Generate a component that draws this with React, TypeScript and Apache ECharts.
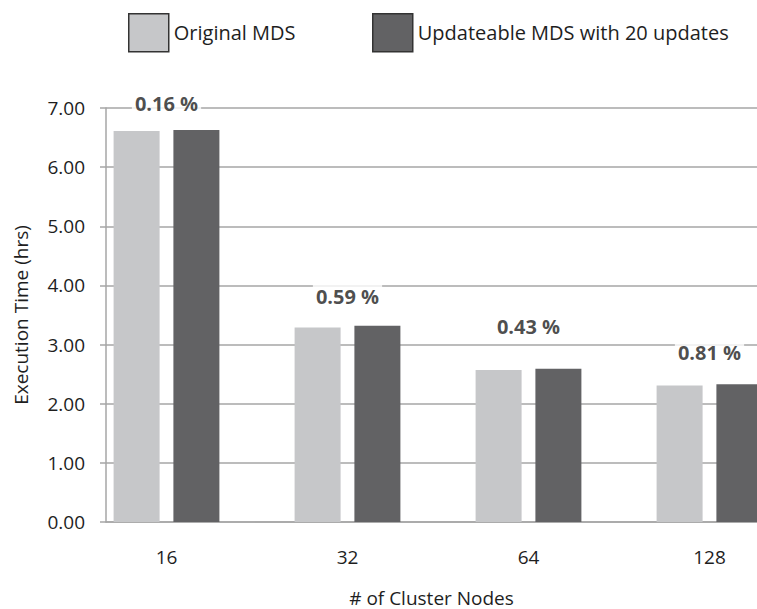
import React, { useEffect, useRef } from "react";
import * as echarts from "echarts";

const categories = ["16", "32", "64", "128"];
const originalMDS = [6.61, 3.29, 2.57, 2.31];
const updateableMDS = [6.63, 3.32, 2.59, 2.33];
const percentLabels = ["0.16 %", "0.59 %", "0.43 %", "0.81 %"];
const percentLabelY = [7.07, 3.82, 3.3, 2.86];
const yTicks = [0, 1, 2, 3, 4, 5, 6, 7];

const FONT = "Open Sans";
const TEXT = "#1e1e1e";
const FS = 19;

export default function App() {
  const ref = useRef<HTMLDivElement>(null);
  useEffect(() => {
    if (!ref.current) return;
    const chart = echarts.init(ref.current, undefined, { renderer: "svg" });
    chart.setOption({
      animation: false,
      textStyle: { fontFamily: FONT, color: TEXT },
      legend: [
        {
          data: ["Original MDS"],
          left: 123,
          top: 8,
          itemWidth: 40,
          itemHeight: 38,
          icon: "rect",
          itemStyle: { borderColor: "#333", borderWidth: 1.5 },
          textStyle: { fontFamily: FONT, fontSize: 20, color: TEXT },
          selectedMode: false,
        },
        {
          data: ["Updateable MDS with 20 updates"],
          left: 367,
          top: 8,
          itemWidth: 40,
          itemHeight: 38,
          icon: "rect",
          itemStyle: { borderColor: "#333", borderWidth: 1.5 },
          textStyle: { fontFamily: FONT, fontSize: 20, color: TEXT },
          selectedMode: false,
        },
      ],
      grid: [
        { left: 106, right: 0, top: 108, bottom: 87, outerBoundsMode: "none", containLabel: false },
        { left: 76, right: -43, top: 108, bottom: 87, outerBoundsMode: "none", containLabel: false },
      ],
      xAxis: [
        {
          gridIndex: 0,
          type: "value",
          min: 0,
          max: 1,
          axisLabel: { show: false },
          axisTick: { show: false },
          splitLine: { show: false },
          axisLine: { show: true, lineStyle: { color: "#a6a6a6", width: 1.5 } },
          name: "# of Cluster Nodes",
          nameLocation: "middle",
          nameGap: 66,
          nameTextStyle: { fontFamily: FONT, fontSize: FS, color: TEXT },
        },
        {
          gridIndex: 1,
          type: "category",
          data: categories,
          axisLine: { show: false },
          axisTick: { show: false },
          axisLabel: { margin: 25, fontFamily: FONT, fontSize: FS, color: TEXT },
        },
      ],
      yAxis: [
        {
          gridIndex: 0,
          type: "value",
          min: 0,
          max: 7,
          interval: 1,
          axisLine: { show: true, lineStyle: { color: "#a6a6a6", width: 1.5 } },
          axisTick: { show: true, length: 6, lineStyle: { color: "#a6a6a6", width: 1.5 } },
          splitLine: { show: true, lineStyle: { color: "#a6a6a6", width: 1.5 } },
          axisLabel: {
            margin: 21,
            fontFamily: FONT,
            fontSize: FS,
            color: TEXT,
            formatter: (v: number) => (yTicks.includes(v) ? v.toFixed(2) : ""),
          },
          name: "Execution Time (hrs)",
          nameLocation: "middle",
          nameGap: 76,
          nameTextStyle: { fontFamily: FONT, fontSize: FS, color: TEXT },
        },
        {
          gridIndex: 1,
          type: "value",
          min: 0,
          max: 7,
          show: false,
        },
      ],
      series: [
        {
          name: "Original MDS",
          type: "bar",
          xAxisIndex: 1,
          yAxisIndex: 1,
          data: originalMDS,
          barWidth: 46,
          barGap: "30%",
          itemStyle: { color: "#c6c7c9" },
          emphasis: { disabled: true },
        },
        {
          name: "Updateable MDS with 20 updates",
          type: "bar",
          xAxisIndex: 1,
          yAxisIndex: 1,
          data: updateableMDS,
          barWidth: 46,
          barGap: "30%",
          itemStyle: { color: "#626264" },
          emphasis: { disabled: true },
        },
        {
          type: "scatter",
          xAxisIndex: 1,
          yAxisIndex: 1,
          data: percentLabelY,
          symbolSize: 0,
          clip: false,
          silent: true,
          z: 5,
          label: {
            show: true,
            position: "inside",
            formatter: (p: any) => percentLabels[p.dataIndex],
            fontFamily: FONT,
            fontSize: 20,
            fontWeight: "bold",
            color: TEXT,
            backgroundColor: "#ffffff",
            padding: [4, 3],
          },
        },
      ],
    });
    return () => chart.dispose();
  }, []);
  return (
    <div
      ref={ref}
      style={{ position: "absolute", left: 0, top: 0, width: 757, height: 609 }}
    />
  );
}
